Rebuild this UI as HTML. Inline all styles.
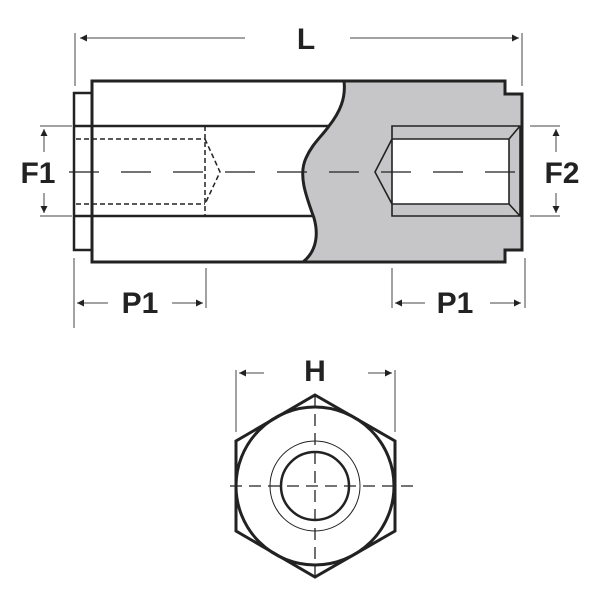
<!DOCTYPE html>
<html><head><style>html,body{margin:0;padding:0;background:#fff}svg{display:block}</style></head><body>
<svg width="600" height="600" viewBox="0 0 600 600" xmlns="http://www.w3.org/2000/svg">
<defs><marker id="a" viewBox="0 0 10 10" refX="10" refY="5" markerWidth="9" markerHeight="7" orient="auto" markerUnits="userSpaceOnUse"><path d="M0,0L10,5L0,10z" fill="#222"/></marker></defs>
<g fill="none" stroke="#222">
<!-- gray section -->
<path d="M344,81 L505,81 L505,94 L522,94 L522,250 L505,250 L505,262 L303,262 C318,250 318,232 314,218 C306,196 298,175 306,158 C312,144 322,136 329,126 C340,112 346,98 344,81 Z" fill="#c6c6c8" stroke="none"/>
<!-- right bore white -->
<rect x="392" y="139" width="117" height="65" fill="#fff" stroke="none"/>
<path d="M392,126 L520,126 L520,216 L392,216 Z M392,139 L509,139 L509,204 L392,204 M509,139 L520,126 M509,204 L520,216 M392,139 L375,172 L392,204" stroke-width="1.6"/>
<!-- outline -->
<path d="M92,81 L505,81 L505,94 L522,94 L522,250 L505,250 L505,262 L92,262 Z" stroke-width="3"/>
<path d="M92,93 L74,93 L74,250 L92,250" stroke-width="2.5"/>
<path d="M344,81 C346,98 340,112 329,126 C322,136 312,144 306,158 C298,175 306,196 314,218 C318,232 318,250 303,262" stroke-width="3"/>
<path d="M74,126 L329,126 M74,216 L314,216" stroke-width="2.5"/>
<!-- dashed hidden -->
<path d="M76,139 L205,139 M76,204 L205,204 M205,126 L205,216 M205,139 L220,172 L205,204" stroke-width="1.5" stroke-dasharray="5,3"/>
<!-- centre line -->
<path d="M64,172 L532,172" stroke-width="1.2" stroke-dasharray="30,22" stroke-dashoffset="-5"/>
<!-- dims -->
<g stroke-width="1" stroke="#444">
<path d="M75,33 L75,86 M522,33 L522,86"/>
<path d="M245,38 L80,38" marker-end="url(#a)"/><path d="M350,38 L519,38" marker-end="url(#a)"/>
<path d="M40,126 L72,126 M40,216 L72,216"/>
<path d="M44,152 L44,129" marker-end="url(#a)"/><path d="M44,193 L44,213" marker-end="url(#a)"/>
<path d="M530,126 L560,126 M530,216 L560,216"/>
<path d="M556,152 L556,129" marker-end="url(#a)"/><path d="M556,193 L556,213" marker-end="url(#a)"/>
<path d="M74,258 L74,328 M206,268 L206,308 M392,268 L392,308 M525,258 L525,308"/>
<path d="M108,303 L77,303" marker-end="url(#a)"/><path d="M172,303 L203,303" marker-end="url(#a)"/>
<path d="M425,303 L395,303" marker-end="url(#a)"/><path d="M490,303 L521,303" marker-end="url(#a)"/>
<path d="M236,370 L236,432 M395,370 L395,432"/>
<path d="M264,373 L239,373" marker-end="url(#a)"/><path d="M368,373 L392,373" marker-end="url(#a)"/>
</g>
<!-- hex view -->
<polygon points="315,395 395,441 395,531 315,577 236,531 236,441" stroke-width="3"/>
<circle cx="315" cy="486" r="79" stroke-width="3"/>
<circle cx="315" cy="486" r="45" stroke-width="1"/>
<circle cx="315" cy="486" r="34" stroke-width="2.5"/>
<path d="M230,486 L414,486 M315,395 L315,577" stroke-width="1.3" stroke-dasharray="12,7"/>
</g>
<g font-family="Liberation Sans, sans-serif" font-weight="bold" font-size="30" fill="#222" text-anchor="middle">
<text x="306" y="49">L</text>
<text x="38" y="183">F1</text>
<text x="562" y="183">F2</text>
<text x="140" y="313">P1</text>
<text x="455" y="313">P1</text>
<text x="315" y="381">H</text>
</g>
</svg>
</body></html>
